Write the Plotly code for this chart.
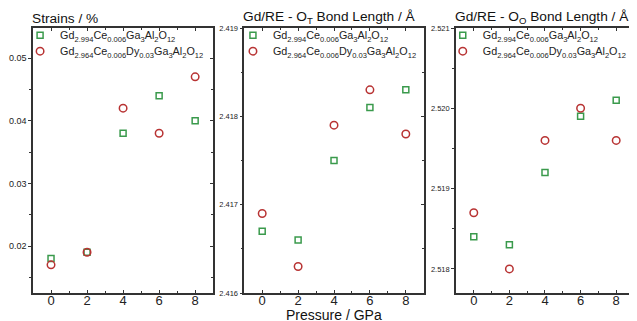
import plotly.graph_objects as go

pressure = [0, 2, 4, 6, 8]

strain_a = [0.018, 0.019, 0.038, 0.044, 0.040]
strain_b = [0.017, 0.019, 0.042, 0.038, 0.047]

ot_a = [2.4167, 2.4166, 2.4175, 2.4181, 2.4183]
ot_b = [2.4169, 2.4163, 2.4179, 2.4183, 2.4178]

oo_a = [2.5184, 2.5183, 2.5192, 2.5199, 2.5201]
oo_b = [2.5187, 2.5180, 2.5196, 2.5200, 2.5196]

name_a = "Gd<sub>2.994</sub>Ce<sub>0.006</sub>Ga<sub>3</sub>Al<sub>2</sub>O<sub>12</sub>"
name_b = "Gd<sub>2.964</sub>Ce<sub>0.006</sub>Dy<sub>0.03</sub>Ga<sub>3</sub>Al<sub>2</sub>O<sub>12</sub>"

titles = ["Strains / %", "Gd/RE - O<sub>T</sub> Bond Length / Å", "Gd/RE - O<sub>O</sub> Bond Length / Å"]

GREEN = "#3a9a4c"
RED = "#b83333"
AX = "#333333"
FONT = "Liberation Sans, Arial, sans-serif"

# the page has an 8px body margin, so the figure is drawn 8px smaller
W, H = 629, 313
ML, MR, MT, MB = 22, 1, 20, 28

xdomains = [[0.0, 0.2998], [0.3515, 0.6502], [0.7038, 1.0]]
yranges = [[0.0125, 0.0548], [2.416, 2.419], [2.5177, 2.5210]]
ydticks = [0.01, 0.001, 0.001]
yfmts = [".2f", ".3f", ".3f"]
yfonts = [9, 7.5, 7.5]
legend_x = [-0.0215, 0.3327, 0.6818]
legend_rows = [1.0275, 0.9672]

series = [(strain_a, strain_b), (ot_a, ot_b), (oo_a, oo_b)]

fig = go.Figure()
layout = {}
for i, (ya, yb) in enumerate(series):
    k = i + 1
    xa = "x" if k == 1 else f"x{k}"
    yax = "y" if k == 1 else f"y{k}"
    la = "legend" if k == 1 else f"legend{2 * i + 1}"
    lb = f"legend{2 * i + 2}"
    fig.add_trace(go.Scatter(x=pressure, y=ya, mode="markers", name=name_a,
                             xaxis=xa, yaxis=yax, legend=la, showlegend=True,
                             marker=dict(symbol="square-open", size=6, color=GREEN,
                                         line=dict(width=1.5, color=GREEN))))
    fig.add_trace(go.Scatter(x=pressure, y=yb, mode="markers", name=name_b,
                             xaxis=xa, yaxis=yax, legend=lb, showlegend=True,
                             marker=dict(symbol="circle-open", size=7.5, color=RED,
                                         line=dict(width=1.5, color=RED))))
    # overlay axis for inside ticks on right side
    yo = f"y{k+3}"
    fig.add_trace(go.Scatter(x=[], y=[], xaxis=xa, yaxis=yo, showlegend=False,
                             hoverinfo="skip"))

    layout[f"xaxis{'' if k == 1 else k}"] = dict(
        domain=xdomains[i], anchor=yax, range=[-1, 9], tickvals=pressure,
        ticks="inside", ticklen=3, tickwidth=1, tickcolor=AX,
        minor=dict(dtick=1, tick0=1, ticks="inside", ticklen=2, tickcolor=AX),
        showline=True, linecolor=AX, linewidth=1.5, mirror="ticks",
        showgrid=False, zeroline=False, ticklabelstandoff=-5,
        tickfont=dict(size=13, color="#222", family=FONT),
    )
    layout[f"yaxis{'' if k == 1 else k}"] = dict(
        domain=[0, 1], anchor=xa, range=yranges[i], dtick=ydticks[i],
        tick0=yranges[i][0] if i == 1 else 0, tickformat=yfmts[i],
        ticks="outside", ticklen=3, tickwidth=1, tickcolor=AX,
        minor=dict(dtick=ydticks[i] / 2, ticks="outside", ticklen=2, tickcolor=AX),
        showline=True, linecolor=AX, linewidth=1.5, mirror=True,
        showgrid=False, zeroline=False,
        tickfont=dict(size=yfonts[i], color="#222", family=FONT),
    )
    layout[f"yaxis{k+3}"] = dict(
        overlaying=yax, side="right", anchor=xa, range=yranges[i], dtick=ydticks[i],
        tick0=yranges[i][0] if i == 1 else 0,
        ticks="inside", ticklen=3, tickwidth=1, tickcolor=AX,
        minor=dict(dtick=ydticks[i] / 2, ticks="inside", ticklen=2, tickcolor=AX),
        showticklabels=False, showline=False, showgrid=False, zeroline=False,
    )
    for leg, ly in ((la, legend_rows[0]), (lb, legend_rows[1])):
        layout[leg] = dict(
            x=legend_x[i], y=ly, xanchor="left", yanchor="top",
            bgcolor="rgba(0,0,0,0)", borderwidth=0,
            font=dict(size=10.8, color="#222", family=FONT),
            itemsizing="trace",
        )

annotations = []
for i, t in enumerate(titles):
    annotations.append(dict(
        text=t, x=xdomains[i][0], y=1.0, xref="paper", yref="paper",
        xanchor="left", yanchor="bottom", xshift=-3, showarrow=False,
        font=dict(size=13.7, color="#111", family=FONT),
    ))
annotations.append(dict(
    text="Pressure / GPa", x=sum(xdomains[1]) / 2, y=0, xref="paper", yref="paper",
    xanchor="center", yanchor="top", yshift=-12, showarrow=False,
    font=dict(size=14, color="#111", family=FONT),
))

fig.update_layout(
    **layout,
    showlegend=True,
    annotations=annotations,
    width=W, height=H,
    margin=dict(l=ML, r=MR, t=MT, b=MB),
    paper_bgcolor="white", plot_bgcolor="white",
    font=dict(family=FONT),
)

fig.write_html("out.html")
